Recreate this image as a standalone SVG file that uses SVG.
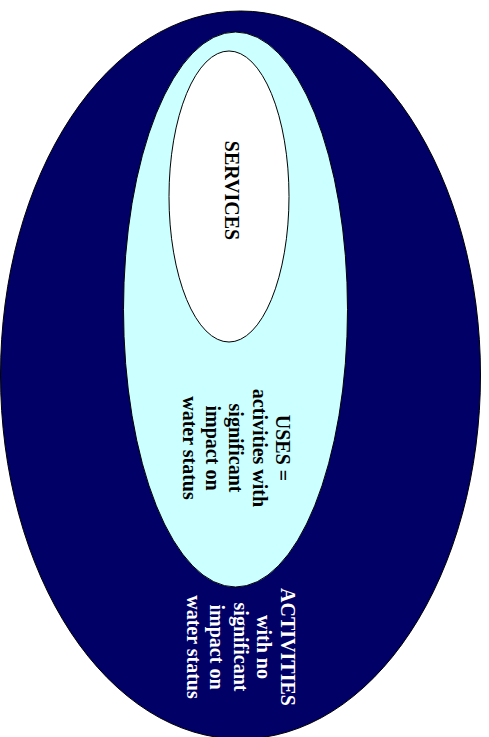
<svg xmlns="http://www.w3.org/2000/svg" width="489" height="737" viewBox="0 0 489 737">
<style>
.lbl{font-family:"Liberation Serif","Times New Roman",serif;font-weight:bold;font-size:20px;text-anchor:middle}
.dark{fill:#000000}
.light{fill:#ffffff}
</style>
<rect width="489" height="737" fill="#ffffff"/>
<g id="activities">
<ellipse cx="240.5" cy="375" rx="240" ry="364" fill="#000066" stroke="#000000" stroke-width="1"/>
<text class="lbl light" transform="rotate(90)"><tspan x="647" y="-280.5">ACTIVITIES</tspan><tspan x="647" y="-257">with no</tspan><tspan x="647" y="-233.5">significant</tspan><tspan x="647" y="-210">impact on</tspan><tspan x="647" y="-186.5">water status</tspan></text>
</g>
<g id="uses">
<ellipse cx="235.5" cy="309.5" rx="112" ry="277.5" fill="#ccffff" stroke="#000000" stroke-width="1"/>
<text class="lbl dark" transform="rotate(90)"><tspan x="448" y="-276">USES =</tspan><tspan x="448" y="-252.7">activities with</tspan><tspan x="448" y="-229.4">significant</tspan><tspan x="448" y="-206.1">impact on</tspan><tspan x="448" y="-182.8">water status</tspan></text>
</g>
<g id="services">
<ellipse cx="229" cy="196.5" rx="60" ry="145.5" fill="#ffffff" stroke="#000000" stroke-width="1"/>
<text class="lbl dark" transform="rotate(90)" x="190.5" y="-225">SERVICES</text>
</g>
</svg>
